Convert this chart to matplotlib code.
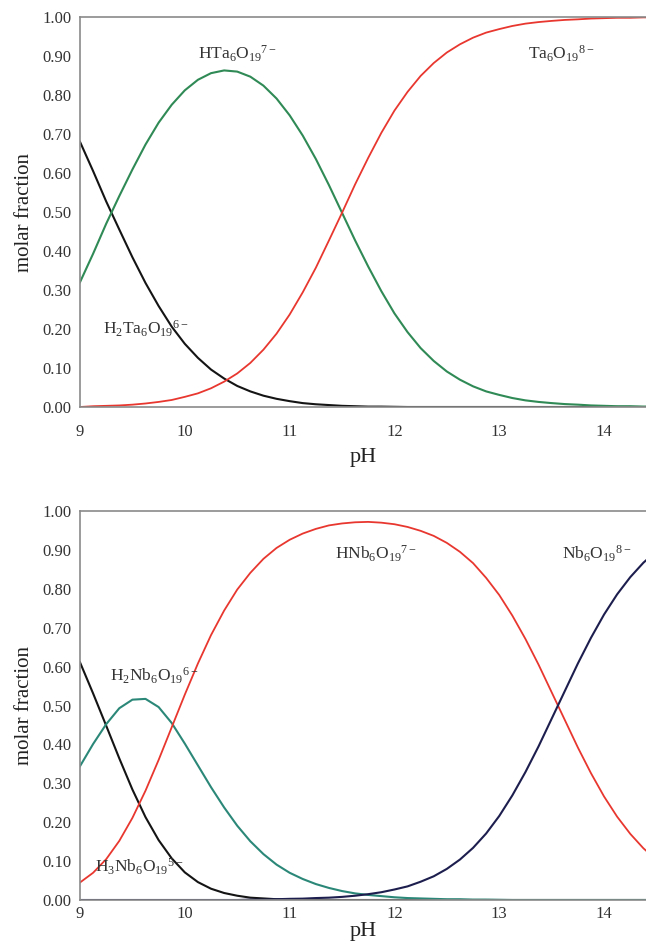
import matplotlib
matplotlib.use("Agg")
import matplotlib.pyplot as plt
from matplotlib.ticker import FormatStrFormatter, MultipleLocator

plt.rcParams['font.family'] = ['Liberation Serif', 'DejaVu Serif']
plt.rcParams['mathtext.fontset'] = 'custom'
plt.rcParams['mathtext.rm'] = 'Liberation Serif'
plt.rcParams['mathtext.it'] = 'Liberation Serif:italic'

# ---------------- data ----------------
ph = [9.0, 9.125, 9.25, 9.375, 9.5, 9.625, 9.75, 9.875,
      10.0, 10.125, 10.25, 10.375, 10.5, 10.625, 10.75, 10.875,
      11.0, 11.125, 11.25, 11.375, 11.5, 11.625, 11.75, 11.875,
      12.0, 12.125, 12.25, 12.375, 12.5, 12.625, 12.75, 12.875,
      13.0, 13.125, 13.25, 13.375, 13.5, 13.625, 13.75, 13.875,
      14.0, 14.125, 14.25, 14.375, 14.5]

# Tantalum (top panel)
h2ta = [0.68, 0.605, 0.527, 0.455, 0.384, 0.318, 0.259, 0.206,
        0.162, 0.126, 0.096, 0.073, 0.054, 0.040, 0.029, 0.021,
        0.015, 0.010, 0.007, 0.005, 0.003, 0.002, 0.001, 0.001,
        0.0005, 0.0, 0.0, 0.0, 0.0, 0.0, 0.0, 0.0,
        0.0, 0.0, 0.0, 0.0, 0.0, 0.0, 0.0, 0.0,
        0.0, 0.0, 0.0, 0.0, 0.0]
hta = [0.32, 0.393, 0.470, 0.541, 0.609, 0.673, 0.729, 0.775,
       0.812, 0.839, 0.856, 0.863, 0.860, 0.847, 0.824, 0.791,
       0.748, 0.696, 0.636, 0.569, 0.498, 0.427, 0.360, 0.297,
       0.240, 0.192, 0.151, 0.118, 0.091, 0.070, 0.053, 0.040,
       0.031, 0.023, 0.017, 0.013, 0.010, 0.0075, 0.006, 0.004,
       0.003, 0.002, 0.002, 0.001, 0.001]
ta = [0.0, 0.002, 0.003, 0.004, 0.006, 0.009, 0.013, 0.018,
      0.026, 0.035, 0.048, 0.065, 0.086, 0.113, 0.147, 0.188,
      0.237, 0.294, 0.357, 0.427, 0.498, 0.571, 0.639, 0.703,
      0.760, 0.808, 0.849, 0.882, 0.909, 0.930, 0.947, 0.960,
      0.969, 0.977, 0.983, 0.987, 0.990, 0.9925, 0.994, 0.996,
      0.997, 0.998, 0.998, 0.999, 0.999]

# Niobium (bottom panel)
h3nb = [0.611, 0.531, 0.448, 0.364, 0.284, 0.213, 0.154, 0.107,
        0.071, 0.046, 0.029, 0.018, 0.011, 0.006, 0.004, 0.002,
        0.001, 0.0005, 0.0, 0.0, 0.0, 0.0, 0.0, 0.0,
        0.0, 0.0, 0.0, 0.0, 0.0, 0.0, 0.0, 0.0,
        0.0, 0.0, 0.0, 0.0, 0.0, 0.0, 0.0, 0.0,
        0.0, 0.0, 0.0, 0.0, 0.0]
h2nb = [0.344, 0.401, 0.452, 0.493, 0.515, 0.517, 0.496, 0.455,
        0.402, 0.346, 0.290, 0.238, 0.191, 0.151, 0.118, 0.091,
        0.070, 0.054, 0.041, 0.031, 0.023, 0.017, 0.013, 0.010,
        0.007, 0.005, 0.004, 0.003, 0.002, 0.002, 0.001, 0.001,
        0.0005, 0.0, 0.0, 0.0, 0.0, 0.0, 0.0, 0.0,
        0.0, 0.0, 0.0, 0.0, 0.0]
hnb = [0.045, 0.070, 0.105, 0.152, 0.211, 0.281, 0.360, 0.444,
       0.528, 0.608, 0.681, 0.744, 0.798, 0.841, 0.877, 0.905,
       0.926, 0.942, 0.954, 0.963, 0.968, 0.971, 0.972, 0.970,
       0.966, 0.959, 0.949, 0.936, 0.918, 0.895, 0.866, 0.828,
       0.784, 0.731, 0.671, 0.605, 0.534, 0.463, 0.392, 0.326,
       0.266, 0.214, 0.170, 0.133, 0.103]
nb = [0.0, 0.0, 0.0, 0.0, 0.0, 0.0, 0.0, 0.0,
      0.0, 0.0, 0.0, 0.0, 0.0, 0.001, 0.001, 0.002,
      0.003, 0.0035, 0.005, 0.006, 0.008, 0.011, 0.015, 0.020,
      0.027, 0.035, 0.047, 0.061, 0.080, 0.104, 0.134, 0.171,
      0.216, 0.269, 0.329, 0.395, 0.466, 0.537, 0.608, 0.674,
      0.734, 0.786, 0.830, 0.867, 0.897]

x_ticks = [9, 10, 11, 12, 13, 14]

top_labels = [(r'HTa$_6$O$_{19}$$^{7-}$', 10.13, 0.905),
              (r'Ta$_6$O$_{19}$$^{8-}$', 13.27, 0.905),
              (r'H$_2$Ta$_6$O$_{19}$$^{6-}$', 9.22, 0.20)]
bot_labels = [(r'HNb$_6$O$_{19}$$^{7-}$', 11.43, 0.89),
              (r'Nb$_6$O$_{19}$$^{8-}$', 13.6, 0.89),
              (r'H$_2$Nb$_6$O$_{19}$$^{6-}$', 9.29, 0.575),
              (r'H$_3$Nb$_6$O$_{19}$$^{5-}$', 9.14, 0.085)]

RED = '#e8372f'
GREEN_T = '#2f8a55'
GREEN_B = '#2b8878'
BLACK = '#141414'
NAVY = '#1d1e4e'
SPINE = '#8a8a8a'

fig = plt.figure(figsize=(6.46, 9.41), dpi=100)
ax1 = fig.add_axes([80 / 646, 1 - 407 / 941, 566 / 646, 390 / 941])
ax2 = fig.add_axes([80 / 646, 1 - 900 / 941, 566 / 646, 389 / 941])

ax1.plot(ph, h2ta, color=BLACK, lw=1.5)
ax1.plot(ph, hta, color=GREEN_T, lw=1.5)
ax1.plot(ph, ta, color=RED, lw=1.3)

ax2.plot(ph, h3nb, color=BLACK, lw=1.5)
ax2.plot(ph, h2nb, color=GREEN_B, lw=1.5)
ax2.plot(ph, hnb, color=RED, lw=1.3)
ax2.plot(ph, nb, color=NAVY, lw=1.5)

for ax, labels in ((ax1, top_labels), (ax2, bot_labels)):
    ax.set_xlim(9, 14.4)
    ax.set_ylim(0, 1.0)
    ax.set_xticks(x_ticks)
    ax.yaxis.set_major_locator(MultipleLocator(0.1))
    ax.yaxis.set_major_formatter(FormatStrFormatter('%.2f'))
    ax.tick_params(length=0, labelsize=12, colors='#333333', pad=6)
    for s in ('left', 'top', 'bottom'):
        ax.spines[s].set_color(SPINE)
        ax.spines[s].set_linewidth(1.2)
    ax.spines['right'].set_visible(False)
    ax.set_ylabel('molar fraction', fontsize=15, color='#222222', labelpad=6)
    for txt, xx, yy in labels:
        ax.text(xx, yy, txt, fontsize=12.5, color='#333333', ha='left', va='center')

ax1.tick_params(axis='x', pad=12)
ax1.set_xlabel('pH', fontsize=16, color='#222222', labelpad=6)
ax2.tick_params(axis='x', pad=4)
ax2.set_xlabel('pH', fontsize=16, color='#222222', labelpad=0)

fig.savefig('out.png', dpi=100)
